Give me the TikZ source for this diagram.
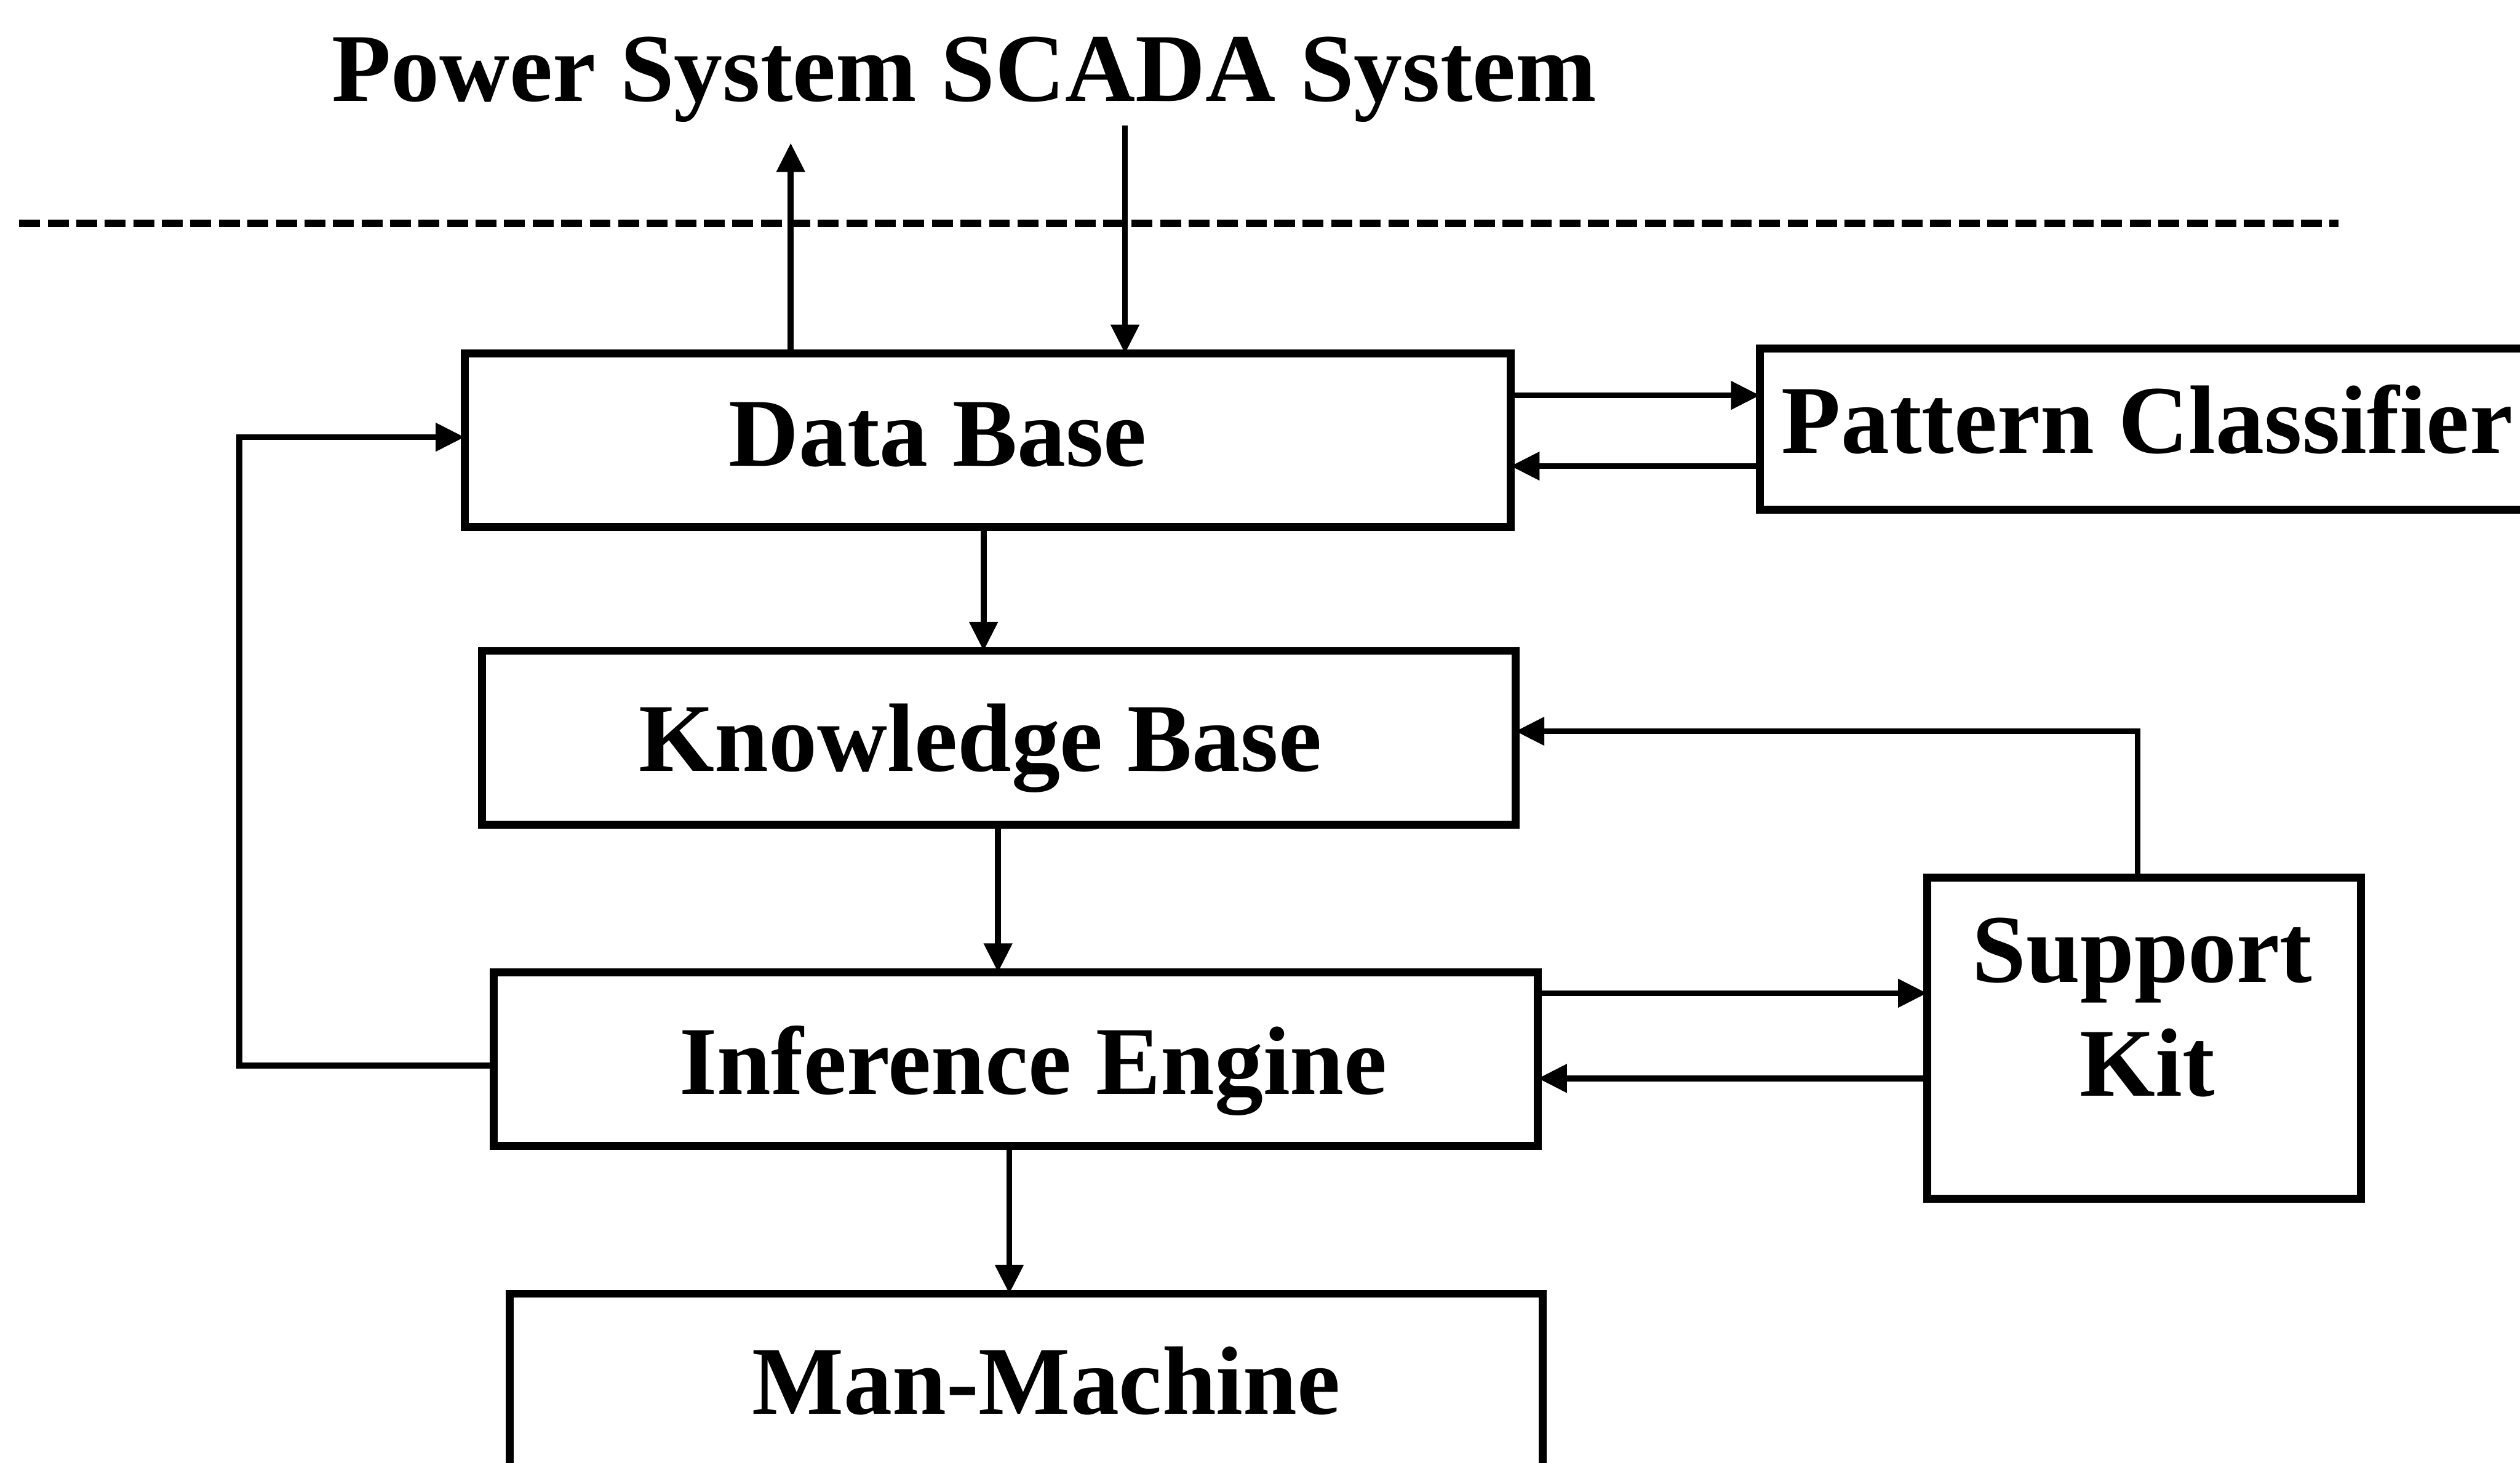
\documentclass[tikz,border=0pt]{standalone}
\usepackage{fontspec}
\setmainfont{Liberation Serif}
\usetikzlibrary{arrows.meta}
\begin{document}
\begin{tikzpicture}[x=0.02cm,y=-0.02cm,
  box/.style={draw,line width=2.8pt,inner sep=0pt,outer sep=0pt},
  lbl/.style={anchor=base,inner sep=0pt,font=\fontsize{34.4}{40}\selectfont\bfseries},
  conn/.style={line width=2.1pt},
  arr/.style={conn,-{Triangle[length=0.36cm,width=0.34cm]}},
  dline/.style={line width=2.6pt,dash pattern=on 0.26cm off 0.095cm}]
\useasboundingbox (0,0) rectangle (1568,910);
% boxes
\node[box,minimum width=13.02cm,minimum height=2.16cm] (db) at (614.5,274) {};
\node[box,minimum width=12.86cm,minimum height=2.16cm] (kb) at (621.5,459) {};
\node[box,minimum width=13.0cm,minimum height=2.16cm] (ie) at (632,659) {};
\node[box,minimum width=12.86cm,minimum height=2.3cm] (mm) at (638.5,862.5) {};
\node[box,minimum width=9.9cm,minimum height=2.0cm] (pc) at (1342.5,267) {};
\node[box,minimum width=5.4cm,minimum height=4.0cm] (sk) at (1334,646) {};
% texts
\node[lbl] (title) at (600,63) {Power System SCADA System};
\node[lbl] (dbt) at (583.5,290) {Data Base};
\node[lbl] (kbt) at (610,480) {Knowledge Base};
\node[lbl] (iet) at (643,681) {Inference Engine};
\node[lbl] (mmt) at (651,880) {Man-Machine};
\node[lbl] (pct) at (1336,282) {Pattern Classifier};
\node[lbl] (skt1) at (1333,611) {Support};
\node[lbl] (skt2) at (1336,682) {Kit};
% dashed separator
\coordinate (dl) at (12,139);
\coordinate (dr) at (1455,139);
\draw[dline] (dl) -- (dr);
% SCADA arrows
\coordinate (upend) at (492,89);
\coordinate (downstart) at (700,78);
\draw[arr] (upend |- db.north) -- (upend);
\draw[arr] (downstart) -- (downstart |- db.north);
% Data Base <-> Pattern Classifier
\draw[arr] (db.east |- 0,246) -- (pc.west |- 0,246);
\draw[arr] (pc.west |- 0,290) -- (db.east |- 0,290);
% vertical chain
\draw[arr] (612,0 |- db.south) -- (612,0 |- kb.north);
\draw[arr] (621,0 |- kb.south) -- (621,0 |- ie.north);
\draw[arr] (628,0 |- ie.south) -- (628,0 |- mm.north);
% Inference Engine <-> Support Kit
\draw[arr] (ie.east |- 0,618) -- (sk.west |- 0,618);
\draw[arr] (sk.west |- 0,671) -- (ie.east |- 0,671);
% Support Kit -> Knowledge Base
\draw[arr] (1330,0 |- sk.north) -- (1330,455) -- (kb.east |- 0,455);
% feedback loop Inference Engine -> Data Base
\draw[arr] (ie.west |- 0,663) -- (149,663) -- (149,272) -- (db.west |- 0,272);
\end{tikzpicture}
\end{document}
